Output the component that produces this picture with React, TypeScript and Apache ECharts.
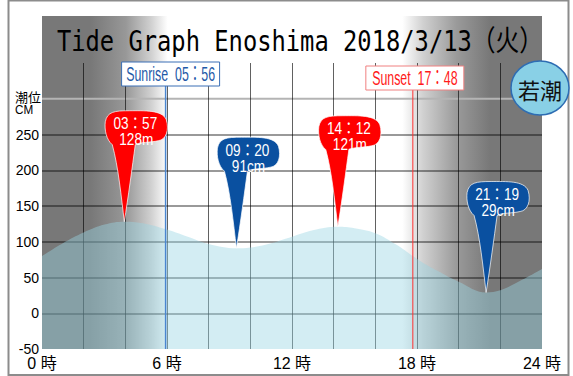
import React, { useEffect, useRef } from 'react';
import * as echarts from 'echarts';

// ---- data ----
const tideHours = [0, 1, 2, 3, 3.95, 5, 6, 7, 8, 9.333, 10, 11, 12, 13, 14.2, 15, 16, 17, 18, 19, 20, 21.317, 22, 23, 24];
const tideLevels = [80, 98, 113, 124, 128, 125, 117, 107, 97, 91, 92, 98, 107, 116, 121, 119, 112, 96, 76, 59, 44, 29, 32, 46, 62];

const extremeHours = [3.95, 9.333, 14.2, 21.317];
const extremeLevels = [128, 91, 121, 29];
const extremeTimes = ['03：57', '09：20', '14：12', '21：19'];
const extremeLabels = ['128m', '91cm', '121m', '29cm'];
const extremeKinds = ['high', 'low', 'high', 'low'];

const sunHours = [5.933, 17.8];
const sunLabels = ['Sunrise  05：56', 'Sunset  17：48'];

const xLabelHours = [0, 6, 12, 18, 24];
const yLabelValues = [-50, 0, 50, 100, 150, 200, 250];

const titleText = 'Tide Graph Enoshima 2018/3/13（火）';
const tideName = '若潮';
const unitLines = ['潮位', 'CM'];

const X_MIN = 0, X_MAX = 24, Y_MIN = -50, Y_MAX = 350;

const PIN =
  'M0 0 C-3 -25 -6 -55 -12 -77 C-18 -82 -20 -92 -19 -100 C-17 -110 -10 -111 5 -111 ' +
  'C20 -111 38 -112 42 -102 C45 -92 42 -82 34 -81 C26 -79 16 -80 11 -77 C8 -55 4 -25 0 0 Z';

const SANS = '"Liberation Sans", "Noto Sans CJK JP", sans-serif';

export default function App() {
  const ref = useRef<HTMLDivElement>(null);

  useEffect(() => {
    if (!ref.current) return;
    const chart = echarts.init(ref.current, undefined, { renderer: 'svg' });

    const hLine = 'rgba(0,0,0,0.4)';
    const vLine = 'rgba(0,0,0,0.62)';
    const hColors = ['transparent', hLine, hLine, hLine, hLine, hLine, hLine, 'transparent', 'transparent'];
    const vColors = ['transparent'];
    for (let i = 0; i < 11; i++) vColors.push(vLine);
    vColors.push('transparent');

    const night = '#787878';

    const option: any = {
      animation: false,
      grid: { left: 42, right: 31, top: 63, bottom: 27, containLabel: false },
      xAxis: {
        type: 'value',
        min: X_MIN,
        max: X_MAX,
        interval: 2,
        axisLine: { show: false },
        axisTick: { show: false },
        axisLabel: {
          margin: 6,
          fontSize: 16,
          color: '#000',
          fontFamily: SANS,
          formatter: (v: number) => (xLabelHours.indexOf(v) >= 0 ? `${v} 時` : ''),
        },
        splitLine: { show: true, lineStyle: { color: vColors, width: 1 } },
      },
      yAxis: {
        type: 'value',
        min: Y_MIN,
        max: Y_MAX,
        interval: 50,
        axisLine: { show: false },
        axisTick: { show: false },
        axisLabel: {
          margin: 3,
          fontSize: 14,
          color: '#000',
          fontFamily: SANS,
          formatter: (v: number) => (yLabelValues.indexOf(v) >= 0 ? String(v) : ''),
        },
        splitLine: { show: true, lineStyle: { color: hColors, width: 2 } },
      },
      graphic: [
        {
          type: 'rect',
          z: 100,
          shape: { x: 8.5, y: 0.5, width: 560, height: 374.5 },
          style: { fill: 'none', stroke: '#8c8c8c', lineWidth: 2 },
        },
        {
          type: 'text',
          z: 100,
          x: 300,
          y: 41,
          scaleX: 0.82,
          style: {
            text: titleText,
            font: '29px "DejaVu Sans Mono", "Noto Sans CJK JP", monospace',
            fill: '#000',
            align: 'center',
            verticalAlign: 'middle',
            textAlign: 'center',
            textVerticalAlign: 'middle',
          },
        },
        {
          type: 'text',
          z: 100,
          x: 15,
          y: 96,
          style: {
            text: unitLines[0],
            font: '13px "Noto Sans CJK JP"',
            fill: '#000',
            align: 'left',
            verticalAlign: 'middle',
            textAlign: 'left',
            textVerticalAlign: 'middle',
          },
        },
        {
          type: 'text',
          z: 100,
          x: 15,
          y: 110,
          scaleX: 0.9,
          style: {
            text: unitLines[1],
            font: '13px ' + SANS,
            fill: '#000',
            align: 'left',
            verticalAlign: 'middle',
            textAlign: 'left',
            textVerticalAlign: 'middle',
          },
        },
        {
          type: 'ellipse',
          z: 100,
          shape: { cx: 540, cy: 88, rx: 29, ry: 27 },
          style: { fill: '#89d0e6', stroke: '#2e6db3', lineWidth: 1.5 },
        },
        {
          type: 'text',
          z: 101,
          x: 540,
          y: 89,
          style: {
            text: tideName,
            font: '22px "Noto Sans CJK JP"',
            fill: '#111',
            align: 'center',
            verticalAlign: 'middle',
            textAlign: 'center',
            textVerticalAlign: 'middle',
          },
        },
      ],
      series: [
        {
          // day / night background
          type: 'custom',
          z: -1,
          silent: true,
          data: [[0, 0]],
          renderItem: (_p: any, api: any) => {
            const [x0, yTop] = api.coord([X_MIN, Y_MAX]);
            const [x1, yBot] = api.coord([X_MAX, Y_MIN]);
            const y300 = api.coord([X_MIN, 300])[1];
            const span = X_MAX - X_MIN;
            const sr = sunHours[0], ss = sunHours[1];
            const o = (h: number) => Math.min(1, Math.max(0, h / span));
            const grad = new echarts.graphic.LinearGradient(0, 0, 1, 0, [
              { offset: 0, color: night },
              { offset: o(sr - 3.6), color: night },
              { offset: o(sr - 1.9), color: '#989898' },
              { offset: o(sr - 0.7), color: '#d0d0d0' },
              { offset: o(sr + 0.1), color: '#ffffff' },
              { offset: o(ss - 0.5), color: '#ffffff' },
              { offset: o(ss + 0.5), color: '#d0d0d0' },
              { offset: o(ss + 2.1), color: '#9a9a9a' },
              { offset: o(ss + 3.7), color: night },
              { offset: 1, color: night },
            ]);
            return {
              type: 'group',
              children: [
                {
                  type: 'rect',
                  shape: { x: x0, y: yTop - 47, width: x1 - x0, height: yBot - yTop + 47 },
                  style: { fill: grad },
                },
                {
                  type: 'line',
                  shape: { x1: x0, y1: y300, x2: x1 + 25, y2: y300 },
                  style: { stroke: '#b4b4b4', lineWidth: 2 },
                },
              ],
            };
          },
        },
        {
          type: 'line',
          z: 2,
          silent: true,
          data: tideHours.map((h, i) => [h, tideLevels[i]]),
          smooth: 0.4,
          symbol: 'none',
          lineStyle: { width: 0 },
          areaStyle: { color: 'rgba(155,213,228,0.62)', origin: 'start' },
        },
        {
          // sunrise / sunset lines
          type: 'custom',
          z: 3,
          silent: true,
          data: sunHours.map((h, i) => [h, i]),
          renderItem: (p: any, api: any) => {
            const i = p.dataIndex;
            const h = api.value(0);
            const [x, yBot] = api.coord([h, Y_MIN]);
            const yTop = api.coord([h, Y_MAX])[1];
            const boxTop = yTop + (i === 0 ? -1 : 3);
            const isRise = i === 0;
            const lineColor = isRise ? '#4a86d0' : '#ff3030';
            const textColor = isRise ? '#1f5aa8' : '#ff1a1a';
            const border = isRise ? '#3a6fb5' : '#f08080';
            const cx = x + (isRise ? 5 : 2);
            return {
              type: 'group',
              children: [
                {
                  type: 'line',
                  shape: { x1: x, y1: boxTop + 24, x2: x, y2: yBot },
                  style: { stroke: lineColor, lineWidth: isRise ? 1.5 : 1 },
                },
                {
                  type: 'rect',
                  shape: { x: cx - 49, y: boxTop, width: 98, height: 24 },
                  style: { fill: '#fff', stroke: border, lineWidth: 1 },
                },
                {
                  type: 'text',
                  x: cx,
                  y: boxTop + 12.5,
                  scaleX: 0.62,
                  style: {
                    text: sunLabels[i],
                    font: '20px ' + SANS,
                    fill: textColor,
                    align: 'center',
                    verticalAlign: 'middle',
                    textAlign: 'center',
                    textVerticalAlign: 'middle',
                  },
                },
              ],
            };
          },
        },
        {
          // high / low tide pins
          type: 'custom',
          z: 5,
          silent: true,
          data: extremeHours.map((h, i) => [h, extremeLevels[i], i]),
          renderItem: (p: any, api: any) => {
            const i = p.dataIndex;
            const [x, y] = api.coord([api.value(0), api.value(1)]);
            const color = extremeKinds[i] === 'high' ? '#ff0000' : '#0a50a0';
            const txt = (t: string, dx: number, dy: number) => ({
              type: 'text',
              x: x + dx,
              y: y + dy,
              scaleX: 0.85,
              style: {
                text: t,
                font: '16px ' + SANS,
                fill: '#fff',
                align: 'center',
                verticalAlign: 'middle',
                textAlign: 'center',
                textVerticalAlign: 'middle',
              },
            });
            return {
              type: 'group',
              children: [
                {
                  type: 'path',
                  x,
                  y,
                  shape: { pathData: PIN },
                  style: { fill: color, stroke: 'rgba(255,255,255,0.7)', lineWidth: 1 },
                },
                txt(extremeTimes[i], 11, -98),
                txt(extremeLabels[i], 12, -82),
              ],
            };
          },
        },
      ],
    };

    chart.setOption(option);
    return () => chart.dispose();
  }, []);

  return (
    <div
      ref={ref}
      style={{ position: 'fixed', left: 0, top: 0, width: 573, height: 376, background: '#fff' }}
    />
  );
}
